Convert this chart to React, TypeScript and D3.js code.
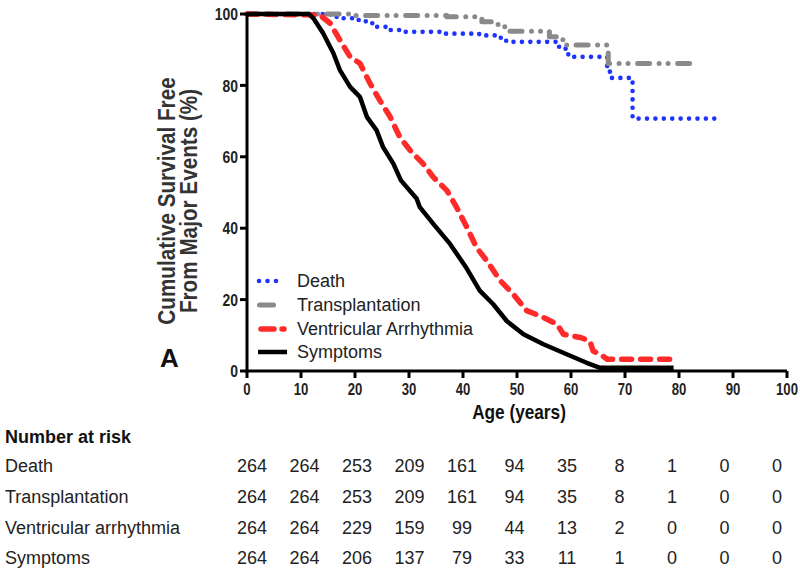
import React from "react";
import * as d3 from "d3";

type Pt = [number, number];

// Kaplan–Meier curves: [age, % free]
const deathCurve: Pt[] = [
  [0, 100], [14, 100], [15.5, 99.2], [17, 98.8], [19.5, 98.3], [22, 97.4], [24, 96.4], [26, 95.5],
  [29, 95.0], [36, 94.5], [43, 94.0], [47, 92.7], [48, 92.2], [57.8, 90.3], [59.5, 88.0],
  [66.7, 84.3], [67.2, 82.1], [71.4, 70.7], [87.8, 70.7],
];
const transplantCurve: Pt[] = [
  [0, 100], [18, 100], [20, 99.6], [37, 99.2], [43.5, 97.8], [46.5, 96.4], [48.4, 95.2],
  [56, 93.6], [58.5, 92.3], [59.2, 91.3], [66.9, 86.1], [82.3, 86.1],
];
const vaCurve: Pt[] = [
  [0, 100], [13.5, 99.7], [15.4, 97.4], [17.2, 92.7], [19.1, 88.0], [20.9, 86.2], [22.8, 80.5],
  [24.6, 75.8], [26.5, 71.2], [28.3, 65.5], [30.2, 61.8], [32.6, 58.1], [34.5, 54.3],
  [37.0, 50.6], [38.8, 45.9], [40.7, 40.3], [42.5, 34.6], [44.4, 30.9], [46.9, 25.3],
  [49.3, 21.5], [51.8, 16.9], [54.9, 15.0], [57.4, 13.1], [58.6, 10.3], [61.7, 9.4],
  [63.5, 8.4], [64.1, 5.6], [65.4, 4.7], [66.7, 3.3], [78.6, 3.3], [78.9, 1.7],
];
const symptomsCurve: Pt[] = [
  [0, 100], [11.5, 100], [12.3, 98.8], [14.1, 94.6], [16.0, 89.0], [17.2, 84.3], [19.1, 79.6],
  [20.9, 76.8], [22.2, 71.2], [24.0, 67.4], [25.2, 62.7], [27.1, 58.1], [28.5, 53.4],
  [31.4, 48.3], [32.0, 45.9], [34.5, 41.2], [37.6, 35.6], [40.7, 28.7], [43.1, 22.5],
  [45.6, 18.7], [48.1, 14.0], [51.2, 10.3], [54.9, 7.5], [59.2, 4.7], [62.9, 2.3],
  [65.4, 0.9], [79, 0.9],
];

const seriesNames = ["Death", "Transplantation", "Ventricular Arrhythmia", "Symptoms"];
const xTicks = [0, 10, 20, 30, 40, 50, 60, 70, 80, 90, 100];
const yTicks = [0, 20, 40, 60, 80, 100];

const riskAges = [0, 10, 20, 30, 40, 50, 60, 70, 80, 90, 100];
const riskLabels = ["Death", "Transplantation", "Ventricular arrhythmia", "Symptoms"];
const riskDeath = [264, 264, 253, 209, 161, 94, 35, 8, 1, 0, 0];
const riskTransplant = [264, 264, 253, 209, 161, 94, 35, 8, 1, 0, 0];
const riskVA = [264, 264, 229, 159, 99, 44, 13, 2, 0, 0, 0];
const riskSymptoms = [264, 264, 206, 137, 79, 33, 11, 1, 0, 0, 0];

const W = 800;
const H = 570;

export default function App() {
  const x = d3.scaleLinear().domain([0, 100]).range([247, 787]);
  const y = d3.scaleLinear().domain([0, 100]).range([371, 14]);
  const tableX = d3.scaleLinear().domain([0, 100]).range([252, 777]);

  const stepLine = d3.line<Pt>().x((d) => x(d[0])).y((d) => y(d[1])).curve(d3.curveStepAfter);
  const linLine = d3.line<Pt>().x((d) => x(d[0])).y((d) => y(d[1])).curve(d3.curveLinear);

  const styles = [
    { color: "#1f33ff", width: 4.6, dash: "0.01 8.4", path: stepLine(deathCurve) },
    { color: "#8a8a8a", width: 5, dash: "12 9.5 0.01 9 0.01 9.5", path: stepLine(transplantCurve) },
    { color: "#ff2a2a", width: 5.5, dash: "10 9", path: linLine(vaCurve) },
    { color: "#000000", width: 4.5, dash: undefined as string | undefined, path: linLine(symptomsCurve) },
  ];

  const legendRows = [281, 305, 329, 352];
  const legendDash = ["0.01 8.5", "14 8 0.01 30", "13 8 2 30", undefined];
  const legendSeg: [number, number][] = [[259, 277], [259.5, 281], [261, 285], [258, 287]];

  const riskRows = [riskDeath, riskTransplant, riskVA, riskSymptoms];
  const riskY = [466, 497, 528, 558];

  const font = "'Liberation Sans', Arial, sans-serif";
  const narrow = 0.82;

  return (
    <svg width={W} height={H} style={{ position: "absolute", left: 0, top: 0, background: "#fff" }}>
      <rect width={W} height={H} fill="#fff" />
      {/* curves */}
      {styles.map((s, i) => (
        <path
          key={i}
          d={s.path || ""}
          fill="none"
          stroke={s.color}
          strokeWidth={s.width}
          strokeDasharray={s.dash}
          strokeLinecap={s.dash ? "round" : "butt"}
          strokeLinejoin="round"
        />
      ))}
      {/* axes */}
      <line x1={x(0)} x2={x(100)} y1={y(0)} y2={y(0)} stroke="#000" strokeWidth={3} />
      <line x1={x(0)} x2={x(0)} y1={y(0) + 1.5} y2={y(100)} stroke="#000" strokeWidth={3} />
      {xTicks.map((t) => (
        <g key={"x" + t}>
          <line x1={x(t)} x2={x(t)} y1={y(0)} y2={y(0) + 7} stroke="#000" strokeWidth={3} />
          <g transform={`translate(${x(t)},395) scale(${narrow},1)`}>
            <text x={0} y={0} textAnchor="middle" fontFamily={font} fontWeight="bold" fontSize={16} fill="#222">
              {t}
            </text>
          </g>
        </g>
      ))}
      {yTicks.map((t) => (
        <g key={"y" + t}>
          <line x1={x(0) - 7} x2={x(0)} y1={y(t)} y2={y(t)} stroke="#000" strokeWidth={3} />
          <g transform={`translate(${x(0) - 9},${y(t)}) scale(${narrow},1)`}>
            <text x={0} y={0} dy="0.36em" textAnchor="end" fontFamily={font} fontWeight="bold" fontSize={17} fill="#222">
              {t}
            </text>
          </g>
        </g>
      ))}
      <g transform={`translate(519,419) scale(0.82,1)`}>
        <text x={0} y={0} textAnchor="middle" fontFamily={font} fontWeight="bold" fontSize={21} fill="#111">
          Age (years)
        </text>
      </g>
      <g transform="translate(167,201) rotate(-90) scale(0.9,1)">
        <text x={0} y={0} dy="0.35em" textAnchor="middle" fontFamily={font} fontWeight="bold" fontSize={23} fill="#333">
          Cumulative Survival Free
        </text>
      </g>
      <g transform="translate(189,201) rotate(-90) scale(0.9,1)">
        <text x={0} y={0} dy="0.35em" textAnchor="middle" fontFamily={font} fontWeight="bold" fontSize={23} fill="#333">
          From Major Events (%)
        </text>
      </g>
      <text x={160} y={367} fontFamily={font} fontWeight="bold" fontSize={26} fill="#111">
        A
      </text>
      {/* legend */}
      {seriesNames.map((n, i) => (
        <g key={n}>
          <line
            x1={legendSeg[i][0]}
            x2={legendSeg[i][1]}
            y1={legendRows[i]}
            y2={legendRows[i]}
            stroke={styles[i].color}
            strokeWidth={styles[i].width}
            strokeDasharray={legendDash[i]}
            strokeLinecap={legendDash[i] ? "round" : "butt"}
          />
          <text x={297} y={legendRows[i]} dy="0.35em" fontFamily={font} fontSize={18} fill="#222">
            {n}
          </text>
        </g>
      ))}
      {/* number at risk table */}
      <text x={5} y={437} dy="0.35em" fontFamily={font} fontWeight="bold" fontSize={18} fill="#111">
        Number at risk
      </text>
      {riskLabels.map((lab, r) => (
        <g key={lab}>
          <text x={5} y={riskY[r]} dy="0.35em" fontFamily={font} fontSize={18} fill="#222">
            {lab}
          </text>
          {riskRows[r].map((v, c) => (
            <text key={c} x={tableX(riskAges[c])} y={riskY[r]} dy="0.35em" textAnchor="middle" fontFamily={font} fontSize={18} fill="#222">
              {v}
            </text>
          ))}
        </g>
      ))}
    </svg>
  );
}
